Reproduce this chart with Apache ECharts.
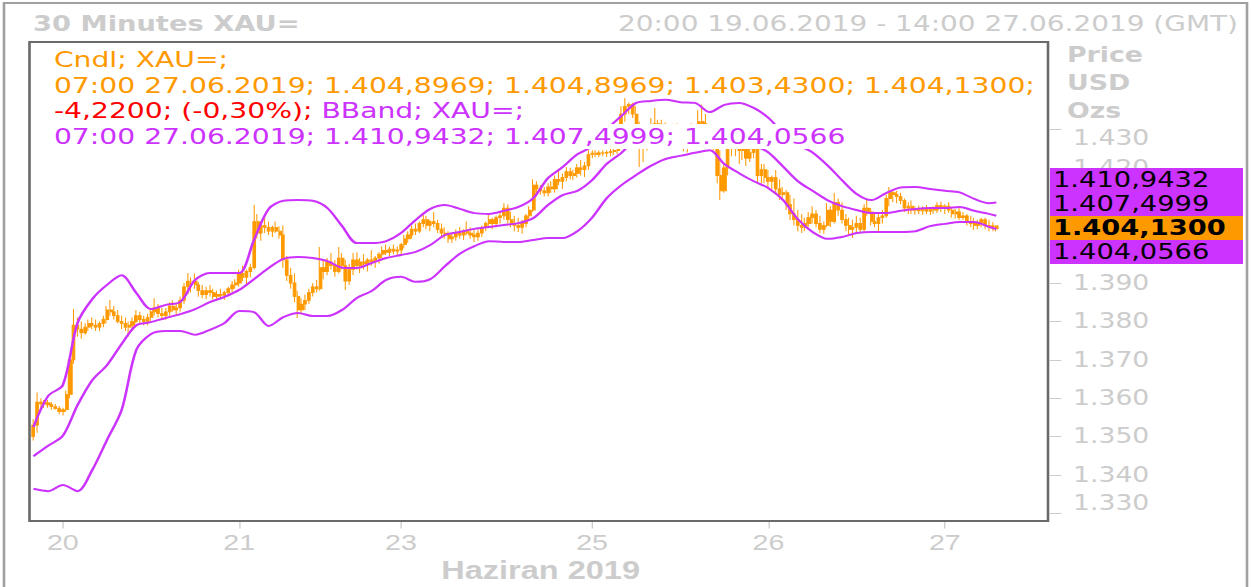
<!DOCTYPE html>
<html>
<head>
<meta charset="utf-8">
<title>30 Minutes XAU=</title>
<script src="https://cdn.jsdelivr.net/npm/echarts@6.0.0/dist/echarts.min.js"></script>
<style>
  html, body { margin: 0; padding: 0; background: #fff; overflow: hidden; }
  /* the source picture is stretched sideways, so the chart is drawn narrower and scaled in x */
  #chart { width: 962px; height: 587px; transform: scaleX(1.30042); transform-origin: 0 0; }
</style>
</head>
<body>
<div id="chart"></div>
<script>
// 30 minute slots, weekend removed
const sessions = [
  { start: '2019-06-19 20:00', slots: 100 },
  { start: '2019-06-23 22:00', slots: 177 }
];

const closes = [
  1353.0, 1359.0, 1358.5, 1358.8, 1358.3, 1357.8, 1357.3, 1356.5, 1357.0, 1361.0,
  1370.0, 1379.0, 1378.0, 1377.0, 1378.5, 1379.5, 1379.0, 1378.5, 1379.5, 1380.5,
  1383.0, 1382.5, 1381.5, 1380.0, 1379.5, 1378.5, 1379.0, 1380.0, 1381.5, 1380.5,
  1380.0, 1381.0, 1382.5, 1383.5, 1382.0, 1381.5, 1382.5, 1384.0, 1383.0, 1383.5,
  1385.5, 1389.0, 1390.5, 1390.5, 1389.5, 1388.0, 1387.0, 1388.0, 1387.5, 1386.5,
  1387.0, 1386.8, 1387.5, 1388.5, 1389.5, 1390.0, 1392.5, 1391.5, 1393.0, 1394.0,
  1406.0, 1403.0, 1405.0, 1404.5, 1403.5, 1404.5, 1403.5, 1402.5, 1396.0, 1392.0,
  1390.0, 1386.5, 1383.0, 1384.5, 1385.5, 1387.5, 1389.0, 1388.5, 1394.0, 1393.0,
  1395.5, 1394.5, 1393.0, 1396.5, 1394.5, 1390.5, 1393.5, 1396.0, 1394.5, 1395.5,
  1395.0, 1396.0, 1395.5, 1396.5, 1397.5, 1398.5, 1398.0, 1398.8, 1398.3, 1398.6,
  1400.0, 1401.5, 1402.5, 1404.0, 1403.5, 1405.5, 1406.5, 1405.0, 1406.0, 1405.5,
  1404.0, 1403.0, 1402.5, 1401.5, 1402.0, 1403.0, 1402.5, 1403.5, 1403.0, 1402.5,
  1402.0, 1403.0, 1404.5, 1405.5, 1406.5, 1405.5, 1407.0, 1407.5, 1409.5, 1406.5,
  1405.5, 1405.0, 1404.5, 1405.5, 1407.5, 1409.0, 1415.5, 1414.5, 1414.0, 1413.5,
  1415.0, 1414.5, 1417.0, 1416.5, 1417.5, 1419.0, 1418.0, 1418.5, 1420.0, 1419.5,
  1420.5, 1423.5, 1423.8, 1423.5, 1423.9, 1423.8, 1424.0, 1424.2, 1424.5, 1426.0,
  1434.0, 1436.0, 1436.5, 1434.0, 1431.0, 1425.0, 1426.0, 1428.0, 1430.0, 1431.5,
  1430.0, 1429.5, 1429.0, 1428.0, 1429.5, 1428.5, 1427.0, 1426.0, 1426.5, 1428.0,
  1428.5, 1432.0, 1431.5, 1430.0, 1427.5, 1425.5, 1418.0, 1414.0, 1420.0, 1425.0,
  1426.5, 1425.5, 1424.5, 1425.5, 1422.5, 1424.0, 1425.0, 1418.0, 1419.5, 1417.5,
  1416.5, 1417.5, 1414.5, 1413.0, 1413.5, 1410.5, 1408.0, 1406.5, 1405.0, 1404.5,
  1405.5, 1407.0, 1408.0, 1405.5, 1404.0, 1405.0, 1409.0, 1406.0, 1411.0, 1409.0,
  1406.5, 1405.0, 1404.0, 1404.5, 1405.5, 1404.0, 1409.5, 1408.5, 1406.0, 1405.5,
  1407.0, 1407.5, 1412.0, 1413.5, 1413.0, 1412.5, 1411.5, 1409.5, 1410.0, 1409.0,
  1409.3, 1408.8, 1409.2, 1408.7, 1409.4, 1409.0, 1410.2, 1409.5, 1410.0, 1409.0,
  1408.0, 1408.5, 1407.0, 1407.5, 1406.0, 1405.5, 1405.0, 1405.8, 1406.5, 1405.0,
  1404.6, 1404.8969, 1404.13
];

const highs = [
  1354.5, 1361.5, 1360.0, 1359.5, 1359.5, 1359.0, 1358.5, 1358.0, 1357.5, 1362.0,
  1371.0, 1383.2, 1381.0, 1380.0, 1379.5, 1380.5, 1381.0, 1380.5, 1380.0, 1381.5,
  1384.0, 1385.6, 1384.0, 1383.0, 1381.5, 1381.0, 1380.0, 1381.0, 1383.0, 1382.5,
  1381.5, 1382.0, 1383.5, 1386.0, 1384.5, 1383.5, 1383.5, 1385.0, 1385.5, 1384.5,
  1386.5, 1390.0, 1392.6, 1391.5, 1392.5, 1390.2, 1389.5, 1389.0, 1389.5, 1388.5,
  1388.0, 1388.5, 1388.0, 1389.0, 1390.5, 1391.0, 1393.5, 1394.5, 1393.5, 1395.0,
  1410.3, 1408.0, 1406.0, 1407.0, 1406.0, 1405.0, 1406.0, 1404.8, 1405.0, 1397.0,
  1394.0, 1392.5, 1388.0, 1386.0, 1387.0, 1388.5, 1390.0, 1390.8, 1399.4, 1396.0,
  1396.5, 1397.8, 1396.0, 1399.4, 1397.8, 1396.0, 1395.0, 1397.8, 1398.0, 1396.5,
  1397.5, 1396.5, 1398.5, 1397.0, 1398.0, 1399.5, 1400.0, 1399.5, 1400.0, 1399.5,
  1400.5, 1402.5, 1403.5, 1405.0, 1405.5, 1406.0, 1407.7, 1407.5, 1406.5, 1408.5,
  1406.5, 1405.5, 1404.5, 1403.5, 1403.0, 1404.0, 1404.6, 1404.0, 1406.0, 1404.5,
  1404.0, 1404.0, 1405.0, 1406.0, 1407.7, 1407.0, 1407.5, 1408.5, 1410.8, 1410.5,
  1408.5, 1407.5, 1407.0, 1406.5, 1408.0, 1410.0, 1417.0, 1416.5, 1415.5, 1415.0,
  1416.0, 1416.5, 1418.0, 1419.4, 1418.5, 1420.2, 1420.0, 1419.5, 1421.0, 1422.0,
  1421.5, 1424.6, 1424.6, 1424.6, 1424.5, 1424.6, 1424.6, 1425.0, 1425.5, 1427.0,
  1436.0, 1438.4, 1437.0, 1437.0, 1436.0, 1432.0, 1427.0, 1429.0, 1433.0, 1435.6,
  1432.5, 1432.5, 1431.8, 1430.5, 1431.5, 1431.6, 1430.0, 1429.0, 1428.5, 1431.6,
  1430.0, 1435.0, 1436.4, 1434.0, 1431.0, 1429.0, 1426.5, 1424.6, 1421.0, 1426.0,
  1428.0, 1428.0, 1427.5, 1427.0, 1426.5, 1425.5, 1426.5, 1425.5, 1421.0, 1421.0,
  1419.4, 1418.0, 1419.4, 1417.0, 1415.0, 1414.2, 1413.0, 1412.0, 1409.0, 1408.0,
  1407.0, 1408.5, 1410.0, 1409.0, 1407.5, 1406.0, 1410.8, 1410.0, 1413.5, 1412.0,
  1411.0, 1408.0, 1407.0, 1406.5, 1407.5, 1407.0, 1410.5, 1411.6, 1409.5, 1408.0,
  1408.5, 1409.0, 1413.0, 1415.0, 1414.2, 1414.0, 1413.5, 1412.0, 1411.0, 1411.5,
  1410.0, 1410.2, 1410.0, 1410.3, 1409.8, 1410.0, 1411.0, 1411.2, 1410.5, 1411.0,
  1409.8, 1409.3, 1409.5, 1408.5, 1408.0, 1407.5, 1407.0, 1406.5, 1407.0, 1407.0,
  1406.5, 1405.8, 1404.8969
];

const lows = [
  1349.0, 1351.0, 1357.0, 1357.5, 1357.5, 1357.0, 1357.0, 1355.8, 1355.5, 1356.5,
  1360.0, 1369.0, 1376.0, 1375.5, 1376.5, 1377.5, 1378.0, 1377.5, 1377.5, 1378.5,
  1379.5, 1381.5, 1380.5, 1379.5, 1378.0, 1377.5, 1376.0, 1378.0, 1379.5, 1379.5,
  1379.0, 1379.0, 1380.0, 1381.5, 1381.0, 1380.5, 1380.5, 1381.5, 1382.5, 1381.5,
  1382.5, 1384.5, 1387.0, 1387.5, 1388.5, 1386.4, 1386.0, 1385.8, 1386.5, 1385.8,
  1385.6, 1386.0, 1385.6, 1386.5, 1387.5, 1388.5, 1389.0, 1390.5, 1389.5, 1391.5,
  1393.5, 1401.5, 1401.0, 1403.0, 1402.5, 1402.0, 1403.0, 1401.5, 1394.0, 1390.5,
  1388.5, 1385.0, 1380.9, 1382.0, 1383.0, 1384.5, 1386.5, 1387.5, 1388.0, 1391.0,
  1392.0, 1393.5, 1391.6, 1392.5, 1393.5, 1388.2, 1389.5, 1392.0, 1393.5, 1392.6,
  1393.5, 1393.0, 1394.5, 1394.0, 1395.0, 1396.5, 1397.3, 1397.0, 1397.5, 1397.3,
  1397.5, 1399.0, 1400.5, 1401.5, 1402.5, 1403.0, 1404.5, 1404.0, 1403.5, 1404.5,
  1403.0, 1402.0, 1401.5, 1400.4, 1400.4, 1401.0, 1401.5, 1401.2, 1402.5, 1401.5,
  1400.7, 1401.0, 1402.0, 1403.5, 1404.5, 1404.0, 1404.5, 1405.5, 1406.5, 1405.5,
  1404.5, 1403.5, 1403.3, 1402.8, 1404.5, 1406.5, 1408.5, 1412.5, 1413.0, 1412.5,
  1412.5, 1413.5, 1413.5, 1415.5, 1414.5, 1416.5, 1417.0, 1416.8, 1417.5, 1418.0,
  1417.6, 1419.5, 1422.5, 1422.8, 1422.8, 1423.0, 1422.8, 1423.0, 1423.3, 1423.5,
  1425.5, 1432.0, 1434.0, 1433.0, 1430.0, 1420.2, 1421.5, 1424.5, 1427.0, 1429.0,
  1428.5, 1428.0, 1427.5, 1426.5, 1427.0, 1427.5, 1426.0, 1424.3, 1424.0, 1425.0,
  1426.0, 1427.5, 1430.0, 1429.0, 1426.5, 1424.5, 1416.0, 1411.6, 1413.5, 1418.0,
  1423.0, 1423.0, 1421.0, 1422.0, 1420.5, 1421.5, 1422.5, 1416.0, 1416.0, 1416.0,
  1415.0, 1414.5, 1413.0, 1411.6, 1411.8, 1409.0, 1406.4, 1405.0, 1403.5, 1403.0,
  1403.5, 1404.5, 1405.5, 1404.5, 1403.0, 1402.8, 1404.5, 1404.6, 1405.5, 1407.5,
  1405.5, 1403.5, 1402.5, 1401.7, 1403.3, 1403.0, 1403.5, 1407.5, 1405.0, 1404.5,
  1403.5, 1405.5, 1407.0, 1410.0, 1411.0, 1410.8, 1410.5, 1408.5, 1408.0, 1408.0,
  1407.8, 1408.0, 1407.7, 1408.0, 1407.7, 1408.0, 1408.2, 1408.5, 1408.0, 1408.3,
  1407.0, 1406.8, 1406.4, 1406.4, 1405.0, 1404.5, 1403.8, 1404.0, 1404.5, 1404.0,
  1403.5, 1403.5, 1403.43
];

const firstOpen = 1350.0;
const prevDayClose = 1408.35;

// Bollinger band read every 4th slot (last point = last candle)
const bandStep = 4;
const upper = [
  1352.5, 1360.6, 1363.4, 1379.6, 1385.8, 1389.5, 1392.0, 1387.4, 1383.2, 1384.3,
  1385.1, 1390.8, 1392.6, 1392.6, 1392.6, 1401.2, 1409.3, 1411.4, 1411.6, 1411.4,
  1409.5, 1404.8, 1400.4, 1400.4, 1400.9, 1403.0, 1406.4, 1409.3, 1410.3, 1409.3,
  1408.2, 1408.0, 1408.8, 1409.8, 1412.1, 1417.3, 1420.2, 1423.5, 1425.6, 1430.0,
  1433.5, 1436.9, 1437.4, 1437.7, 1437.1, 1436.9, 1434.5, 1436.4, 1436.9, 1435.6,
  1433.0, 1429.0, 1426.0, 1424.0, 1420.7, 1416.8, 1413.2, 1411.6, 1413.4, 1414.9,
  1415.0, 1414.5, 1414.0, 1413.6, 1411.9, 1410.8, 1410.9432
];
const middle = [
  1344.9, 1347.6, 1350.2, 1358.2, 1364.7, 1368.6, 1374.1, 1379.0, 1379.8, 1380.9,
  1381.9, 1383.2, 1385.0, 1386.4, 1388.2, 1391.0, 1393.9, 1396.3, 1396.8, 1396.5,
  1395.7, 1394.0, 1393.9, 1395.2, 1396.5, 1397.3, 1398.1, 1399.9, 1402.5, 1403.3,
  1404.1, 1404.6, 1405.1, 1405.6, 1406.9, 1410.3, 1412.9, 1414.0, 1416.8, 1421.0,
  1423.9, 1427.5, 1429.0, 1430.0, 1430.1, 1430.4, 1429.6, 1428.7, 1427.8, 1426.0,
  1424.0, 1420.3, 1416.5, 1414.0, 1411.6, 1410.0, 1409.0, 1408.2, 1408.2, 1408.8,
  1409.3, 1409.5, 1409.5, 1409.8, 1408.8, 1408.0, 1407.4999
];
const lower = [
  1336.4, 1335.8, 1337.4, 1335.8, 1341.3, 1349.1, 1356.9, 1372.6, 1376.7, 1377.5,
  1377.5, 1376.5, 1377.8, 1379.6, 1382.7, 1382.4, 1378.8, 1381.1, 1382.2, 1381.4,
  1381.4, 1383.0, 1386.1, 1387.9, 1390.8, 1391.6, 1390.3, 1391.0, 1394.4, 1397.6,
  1399.6, 1400.9, 1400.7, 1400.7, 1401.2, 1401.7, 1401.7, 1403.5, 1407.0, 1412.1,
  1415.5, 1418.1, 1420.5, 1422.3, 1423.1, 1423.9, 1424.6, 1421.0, 1418.6, 1416.5,
  1414.7, 1411.6, 1406.6, 1403.3, 1401.5, 1402.0, 1403.0, 1403.3, 1403.3, 1403.3,
  1403.5, 1404.8, 1405.4, 1405.9, 1405.9, 1404.6, 1404.0566
];

const yTicks = { min: 1330, max: 1430, step: 10 };
// labels that sit fully under the last-value boxes on the right
const yHidden = [1400, 1410];

// ---------------------------------------------------------------
const categories = [];
sessions.forEach(s => {
  const t0 = Date.parse(s.start.replace(' ', 'T') + ':00Z');
  for (let k = 0; k < s.slots; k++) {
    categories.push(new Date(t0 + k * 1800000).toISOString().slice(0, 16).replace('T', ' '));
  }
});

// one label per day, skipped when too close to the previous one
const dayLabels = new Set();
let lastLabel = -100;
categories.forEach((c, i) => {
  if (i > 0 && c.slice(8, 10) !== categories[i - 1].slice(8, 10) && i - lastLabel > 12) {
    dayLabels.add(i);
    lastLabel = i;
  }
});

const opens = closes.map((c, i) => (i === 0 ? firstOpen : closes[i - 1]));
const candles = closes.map((c, i) => [opens[i], c, lows[i], highs[i]]);
const last = closes.length - 1;
const bandData = arr => arr.map((v, k) => [Math.min(k * bandStep, last), v]);

const fmtTR = (v, d) => {
  const [ip, dp] = Math.abs(v).toFixed(d).split('.');
  return (v < 0 ? '-' : '') + ip.replace(/\B(?=(\d{3})+(?!\d))/g, '.') + (dp ? ',' + dp : '');
};

const S = 1251 / 962;
const px = x => x / S;   // picture x -> chart x
const GRAY = '#cccccc';
const ORANGE = '#ff9900';
const PURPLE = '#cc33ff';
const RED = '#ff0000';
const LEG = "21.7px 'DejaVu Sans'";

const c = categories[last];
const stamp = c.slice(11) + ' ' + c.slice(8, 10) + '.' + c.slice(5, 7) + '.' + c.slice(0, 4);
const chg = closes[last] - prevDayClose;
const pct = (chg / prevDayClose * 100).toFixed(2).replace('.', ',');
const uL = upper[upper.length - 1], mL = middle[middle.length - 1], lL = lower[lower.length - 1];

function txt(x, y, text, font, fill, extra) {
  return {
    type: 'text', x, y, z: 100, silent: true,
    style: Object.assign({
      text, font, fill, align: 'left', verticalAlign: 'middle',
      textAlign: 'left', textVerticalAlign: 'middle'
    }, extra || {})
  };
}

const legendBg = { backgroundColor: '#ffffff', padding: [0, 3], lineHeight: 25 };
const graphics = [
  { type: 'rect', silent: true, z: 90, shape: { x: px(4), y: 3, width: px(1247) - px(4), height: 640 },
    style: { fill: 'none', stroke: '#a0a0a0', lineWidth: 2 } },
  { type: 'rect', silent: true, z: 50, shape: { x: px(29.5), y: 42, width: px(1048) - px(29.5), height: 479 },
    style: { fill: 'none', stroke: '#6a6a6a', lineWidth: 2 } },
  txt(px(33), 24, '30 Minutes XAU=', "bold 21px 'DejaVu Sans'", GRAY),
  txt(px(1238), 24, '20:00 19.06.2019 - 14:00 27.06.2019 (GMT)',
      "21.5px 'DejaVu Sans'", GRAY, { align: 'right', textAlign: 'right' }),
  txt(px(1067), 55, 'Price', "bold 20.6px 'DejaVu Sans'", GRAY),
  txt(px(1067), 83, 'USD', "bold 20.6px 'DejaVu Sans'", GRAY),
  txt(px(1067), 111, 'Ozs', "bold 20.6px 'DejaVu Sans'", GRAY),
  txt(px(50), 60, 'Cndl; XAU=;', LEG, ORANGE, legendBg),
  txt(px(50), 85.5, stamp + '; ' + [opens[last], highs[last], lows[last], closes[last]].map(v => fmtTR(v, 4)).join('; ') + ';',
      LEG, ORANGE, legendBg),
  txt(px(50), 111, '{r|' + fmtTR(chg, 4) + '; (' + pct + '%);} {p|BBand; XAU=;}', LEG, RED,
      Object.assign({ rich: { r: { fill: RED, font: LEG }, p: { fill: PURPLE, font: LEG } } }, legendBg)),
  txt(px(50), 136.5, stamp + '; ' + [uL, mL, lL].map(v => fmtTR(v, 4)).join('; '), LEG, PURPLE, legendBg)
];

[[uL, PURPLE, false], [mL, PURPLE, false], [closes[last], ORANGE, true], [lL, PURPLE, false]].forEach((b, k) => {
  graphics.push({ type: 'rect', silent: true, z: 99,
    shape: { x: px(1050), y: 168 + 24 * k, width: px(1243) - px(1050), height: 24 }, style: { fill: b[1] } });
  graphics.push(txt(px(1053), 180 + 24 * k, fmtTR(b[0], 4), (b[2] ? 'bold ' : '') + "21px 'DejaVu Sans'", '#000'));
});

const chart = echarts.init(document.getElementById('chart'), null, { renderer: 'svg' });

const bandLine = (name, arr) => ({
  name, type: 'line', data: bandData(arr), smooth: 0.3, showSymbol: false, clip: false,
  lineStyle: { color: PURPLE, width: 2 }, itemStyle: { color: PURPLE }, silent: true, z: 3
});

chart.setOption({
  animation: false,
  backgroundColor: '#ffffff',
  grid: { left: px(31.6), right: 962 - px(1049.6), top: 129.4, bottom: 73.6,
          containLabel: false, outerBoundsMode: 'none' },
  xAxis: {
    type: 'category', data: categories, boundaryGap: true, offset: 8,
    axisLine: { show: false },
    axisTick: { show: true, alignWithLabel: true, length: 7, interval: i => dayLabels.has(i),
                lineStyle: { color: GRAY } },
    axisLabel: { interval: i => dayLabels.has(i), formatter: v => String(+v.slice(8, 10)),
                 margin: 10, color: GRAY, fontFamily: 'Liberation Sans', fontSize: 22 },
    splitLine: { show: false },
    name: 'Haziran 2019', nameLocation: 'middle', nameGap: 33,
    nameTextStyle: { color: GRAY, fontFamily: 'Liberation Sans', fontWeight: 'bold', fontSize: 25 }
  },
  yAxis: {
    type: 'value', position: 'right', min: yTicks.min, max: yTicks.max, interval: yTicks.step,
    axisLine: { show: false }, splitLine: { show: false },
    axisTick: { show: true, length: 9, lineStyle: { color: GRAY } },
    axisLabel: {
      margin: 18, color: GRAY, fontFamily: 'DejaVu Sans', fontSize: 20.5,
      formatter: v => {
        if (yHidden.includes(v)) return '';
        const s = fmtTR(v, 0);
        if (v === yTicks.max) return '{dn|' + s + '}';
        if (v === yTicks.min) return '{up|' + s + '}';
        return s;
      },
      rich: {
        dn: { padding: [17, 0, 0, 0], color: GRAY, fontFamily: 'DejaVu Sans', fontSize: 20.5 },
        up: { padding: [0, 0, 20, 0], color: GRAY, fontFamily: 'DejaVu Sans', fontSize: 20.5 }
      }
    }
  },
  series: [
    {
      name: 'Cndl', type: 'candlestick', data: candles, barWidth: 2.6, barMinWidth: 2.6, clip: false, silent: true,
      itemStyle: { color: ORANGE, color0: ORANGE, borderColor: ORANGE, borderColor0: ORANGE,
                   borderColorDoji: ORANGE, borderWidth: 0.8 }
    },
    bandLine('Upper', upper),
    bandLine('Middle', middle),
    bandLine('Lower', lower)
  ],
  graphic: graphics
});
</script>
</body>
</html>
